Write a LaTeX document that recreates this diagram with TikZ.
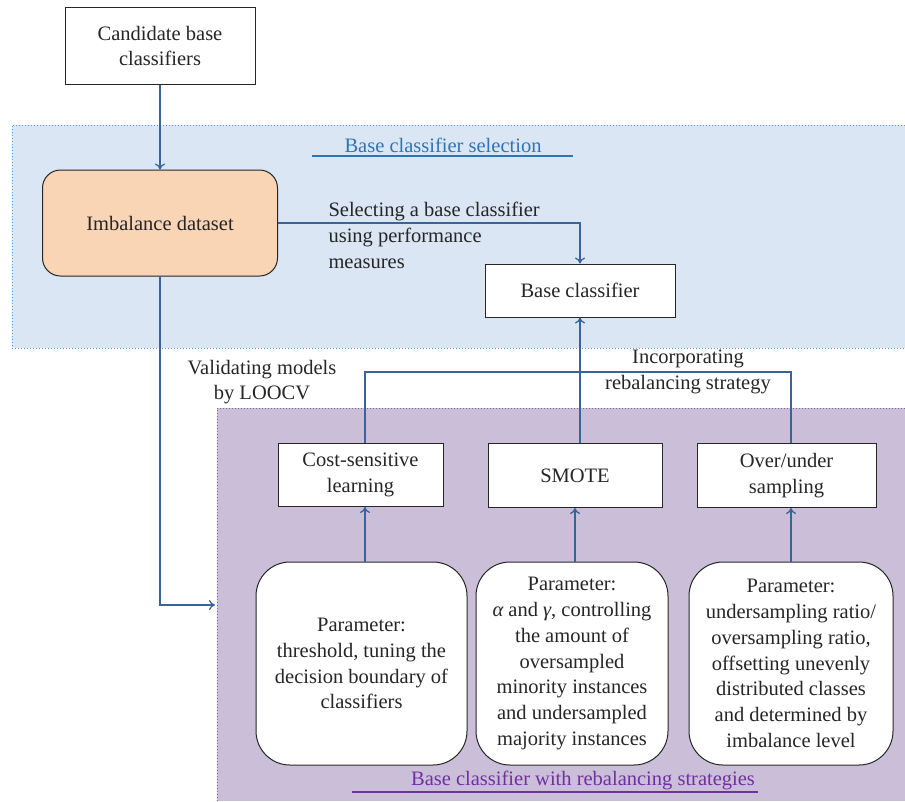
\documentclass[tikz,border=0pt]{standalone}
\usepackage{fontspec}
\setmainfont{Liberation Serif}
\usetikzlibrary{arrows.meta}
\definecolor{lineblue}{HTML}{3A639A}
\definecolor{bluefill}{HTML}{DAE6F3}
\definecolor{blueedge}{HTML}{5B9BD5}
\definecolor{bluetitle}{HTML}{2E75B6}
\definecolor{purplefill}{HTML}{CABED9}
\definecolor{purpleedge}{HTML}{8064A2}
\definecolor{purpletitle}{HTML}{7030A0}
\definecolor{peach}{HTML}{F9D4B5}
\begin{document}
\begin{tikzpicture}[x=1pt,y=-1pt,
  txt/.style={font=\fontsize{20.5}{25.8}\selectfont, text=black!85},
  plainbox/.style={txt, draw=black!85, line width=1pt, fill=white, align=center, inner sep=0pt},
  parbox/.style={txt, draw=black!85, line width=1pt, fill=white, align=center, rounded corners=34pt, inner sep=0pt, minimum height=203pt},
  conn/.style={draw=lineblue, line width=1.3pt},
  arr/.style={conn, -{To[length=6pt,width=10pt]}},
  region/.style={dotted, line width=1pt}
]
\useasboundingbox (0,0) rectangle (905,801);
% regions
\fill[bluefill] (12,125) rectangle (905,348);
\draw[region, draw=blueedge] (905,125) -- (12,125) -- (12,348) -- (905,348);
\fill[purplefill] (217,408) rectangle (905,801);
\draw[region, draw=purpleedge] (905,408) -- (217,408) -- (217,801);
\node[txt, text=bluetitle] (t1) at (443,145) {Base classifier selection};
\draw[bluetitle, line width=1.5pt] (312,156) -- (573,156);
\node[txt, text=purpletitle] (t2) at (583,780) {Base classifier with rebalancing strategies};
\draw[purpletitle, line width=1.5pt] (352,792) -- (758,792);

% nodes
\node[plainbox, minimum width=190pt, minimum height=77pt] (cand) at (160,46) {Candidate base\\classifiers};
\node[plainbox, fill=peach, rounded corners=18pt, minimum width=235pt, minimum height=106pt] (imb) at (160,223) {Imbalance dataset};
\node[plainbox, minimum width=190pt, minimum height=53pt] (base) at (580,290.5) {Base classifier};
\node[plainbox, minimum width=165pt, minimum height=63pt] (cost) at (360.5,475) {Cost-sensitive\\learning};
\node[plainbox, minimum width=174pt, minimum height=64pt] (smote) at (575,475.5) {SMOTE};
\node[plainbox, minimum width=179pt, minimum height=64pt] (over) at (786.5,475.5) {Over/under\\sampling};
\node[parbox, minimum width=211pt] (p1) at (361.5,663.5) {Parameter:\\threshold, tuning the\\decision boundary of\\classifiers};
\node[parbox, minimum width=192pt] (p2) at (572,663.5) {Parameter:\\{\itshape α} and {\itshape γ}, controlling\\the amount of\\oversampled\\minority instances\\and undersampled\\majority instances};
\node[parbox, minimum width=204pt] (p3) at (791,663.5) {Parameter:\\undersampling ratio/\\oversampling ratio,\\offsetting unevenly\\distributed classes\\and determined by\\imbalance level};

% labels
\node[txt, align=left, anchor=north west] (sel) at (325,199) {Selecting a base classifier\\using performance\\measures};
\node[txt, align=center] (val) at (262,382) {Validating models\\by LOOCV};
\node[txt, align=center] (inc) at (688,372) {Incorporating\\rebalancing strategy};

% connectors
\draw[arr] (cand) -- (imb);
\draw[arr] (imb.east) -| (base.north);
\coordinate (vin) at (215,605);
\draw[arr] (imb.south) |- (vin);
\draw[arr] (smote.north -| base) -- (base.south);
\coordinate (jl) at (365,372);
\coordinate (jr) at (791,372);
\draw[conn] (cost.north -| jl) -- (jl) -- (jr) -- (over.north -| jr);
\draw[arr] (p1.north -| jl) -- (cost.south -| jl);
\draw[arr] (p2.north -| smote) -- (smote.south);
\draw[arr] (p3.north -| jr) -- (over.south -| jr);
\end{tikzpicture}
\end{document}
